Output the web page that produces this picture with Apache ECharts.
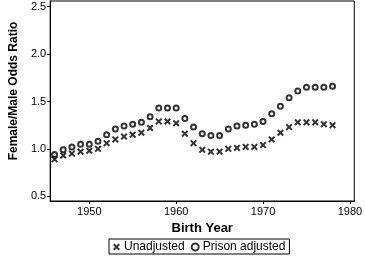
<!DOCTYPE html>
<html>
<head>
<meta charset="utf-8">
<script src="https://cdn.jsdelivr.net/npm/echarts@6/dist/echarts.min.js"></script>
<style>
  html, body { margin: 0; padding: 0; background: #fff; }
  #chart { width: 365px; height: 257px; }
</style>
</head>
<body>
<div id="chart"></div>
<script>
// Birth years and the two odds-ratio series
const years = [1946, 1947, 1948, 1949, 1950, 1951, 1952, 1953, 1954, 1955, 1956,
    1957, 1958, 1959, 1960, 1961, 1962, 1963, 1964, 1965, 1966, 1967,
    1968, 1969, 1970, 1971, 1972, 1973, 1974, 1975, 1976, 1977, 1978];
const unadjusted = [0.89, 0.93, 0.95, 0.97, 0.98, 1.00, 1.06, 1.10, 1.13, 1.15, 1.17,
    1.22, 1.29, 1.29, 1.27, 1.16, 1.06, 0.99, 0.97, 0.97, 1.00, 1.01,
    1.02, 1.02, 1.04, 1.10, 1.17, 1.23, 1.28, 1.28, 1.28, 1.26, 1.25];
const prisonAdjusted = [0.94, 0.99, 1.02, 1.05, 1.05, 1.08, 1.15, 1.21, 1.24, 1.26, 1.28,
    1.34, 1.43, 1.43, 1.43, 1.32, 1.23, 1.16, 1.14, 1.14, 1.21, 1.24,
    1.25, 1.26, 1.29, 1.37, 1.45, 1.54, 1.61, 1.65, 1.65, 1.65, 1.66];
const xTicks = [1950, 1960, 1970, 1980];
const yTicks = [0.5, 1.0, 1.5, 2.0, 2.5];

// marcador en forma de X rellena
const crossPath = 'path://M0,2L2,0L5,3L8,0L10,2L7,5L10,8L8,10L5,7L2,10L0,8L3,5Z';
const font = 'Liberation Sans, Arial, Helvetica, sans-serif';

const chart = echarts.init(document.getElementById('chart'));

chart.setOption({
    animation: false,
    grid: {
        left: 40,
        right: 8,
        top: 1,
        bottom: 56,
        show: true,
        borderColor: '#000',
        borderWidth: 1
    },
    legend: {
        left: 109,
        top: 239,
        data: [
            { name: 'Unadjusted' },
            { name: 'Prison adjusted', itemStyle: { borderWidth: 1.5 } }
        ],
        borderColor: '#000',
        borderWidth: 1,
        padding: [2, 4, 1, 4],
        itemGap: 6,
        itemWidth: 7,
        itemHeight: 7,
        textStyle: {
            fontFamily: font,
            fontSize: 12,
            color: '#000',
            padding: [0, 0, 0, -1]
        }
    },
    xAxis: {
        type: 'value',
        min: 1945.5,
        max: 1980.5,
        name: 'Birth Year',
        nameLocation: 'middle',
        nameGap: 20,
        nameTextStyle: {
            fontFamily: font,
            fontSize: 13,
            fontWeight: 'bold',
            color: '#000'
        },
        axisLine: { show: true, lineStyle: { color: '#000', width: 1 } },
        axisTick: { show: true, length: 3, customValues: xTicks, lineStyle: { color: '#000' } },
        axisLabel: {
            customValues: xTicks,
            margin: 5,
            fontFamily: font,
            fontSize: 11,
            color: '#000',
            formatter: v => String(v)
        },
        splitLine: { show: false }
    },
    yAxis: {
        type: 'value',
        min: 0.45,
        max: 2.56,
        name: 'Female/Male Odds Ratio',
        nameLocation: 'middle',
        nameGap: 27,
        nameTextStyle: {
            fontFamily: font,
            fontSize: 12,
            fontWeight: 'bold',
            color: '#000',
            padding: [0, 0, 0, 20]
        },
        axisLine: { show: true, lineStyle: { color: '#000', width: 1 } },
        axisTick: { show: true, length: 3, customValues: yTicks, lineStyle: { color: '#000' } },
        axisLabel: {
            customValues: yTicks,
            margin: 4,
            fontFamily: font,
            fontSize: 11,
            color: '#000',
            formatter: v => v.toFixed(1)
        },
        splitLine: { show: false }
    },
    series: [
        {
            name: 'Unadjusted',
            type: 'scatter',
            z: 3,
            symbol: crossPath,
            symbolSize: 7,
            itemStyle: { color: '#000' },
            data: years.map((y, i) => [y, unadjusted[i]])
        },
        {
            name: 'Prison adjusted',
            type: 'scatter',
            z: 2,
            symbol: 'emptyCircle',
            symbolSize: 5,
            itemStyle: { color: '#000', borderColor: '#000', borderWidth: 2 },
            data: years.map((y, i) => [y, prisonAdjusted[i]])
        }
    ]
});
</script>
</body>
</html>
